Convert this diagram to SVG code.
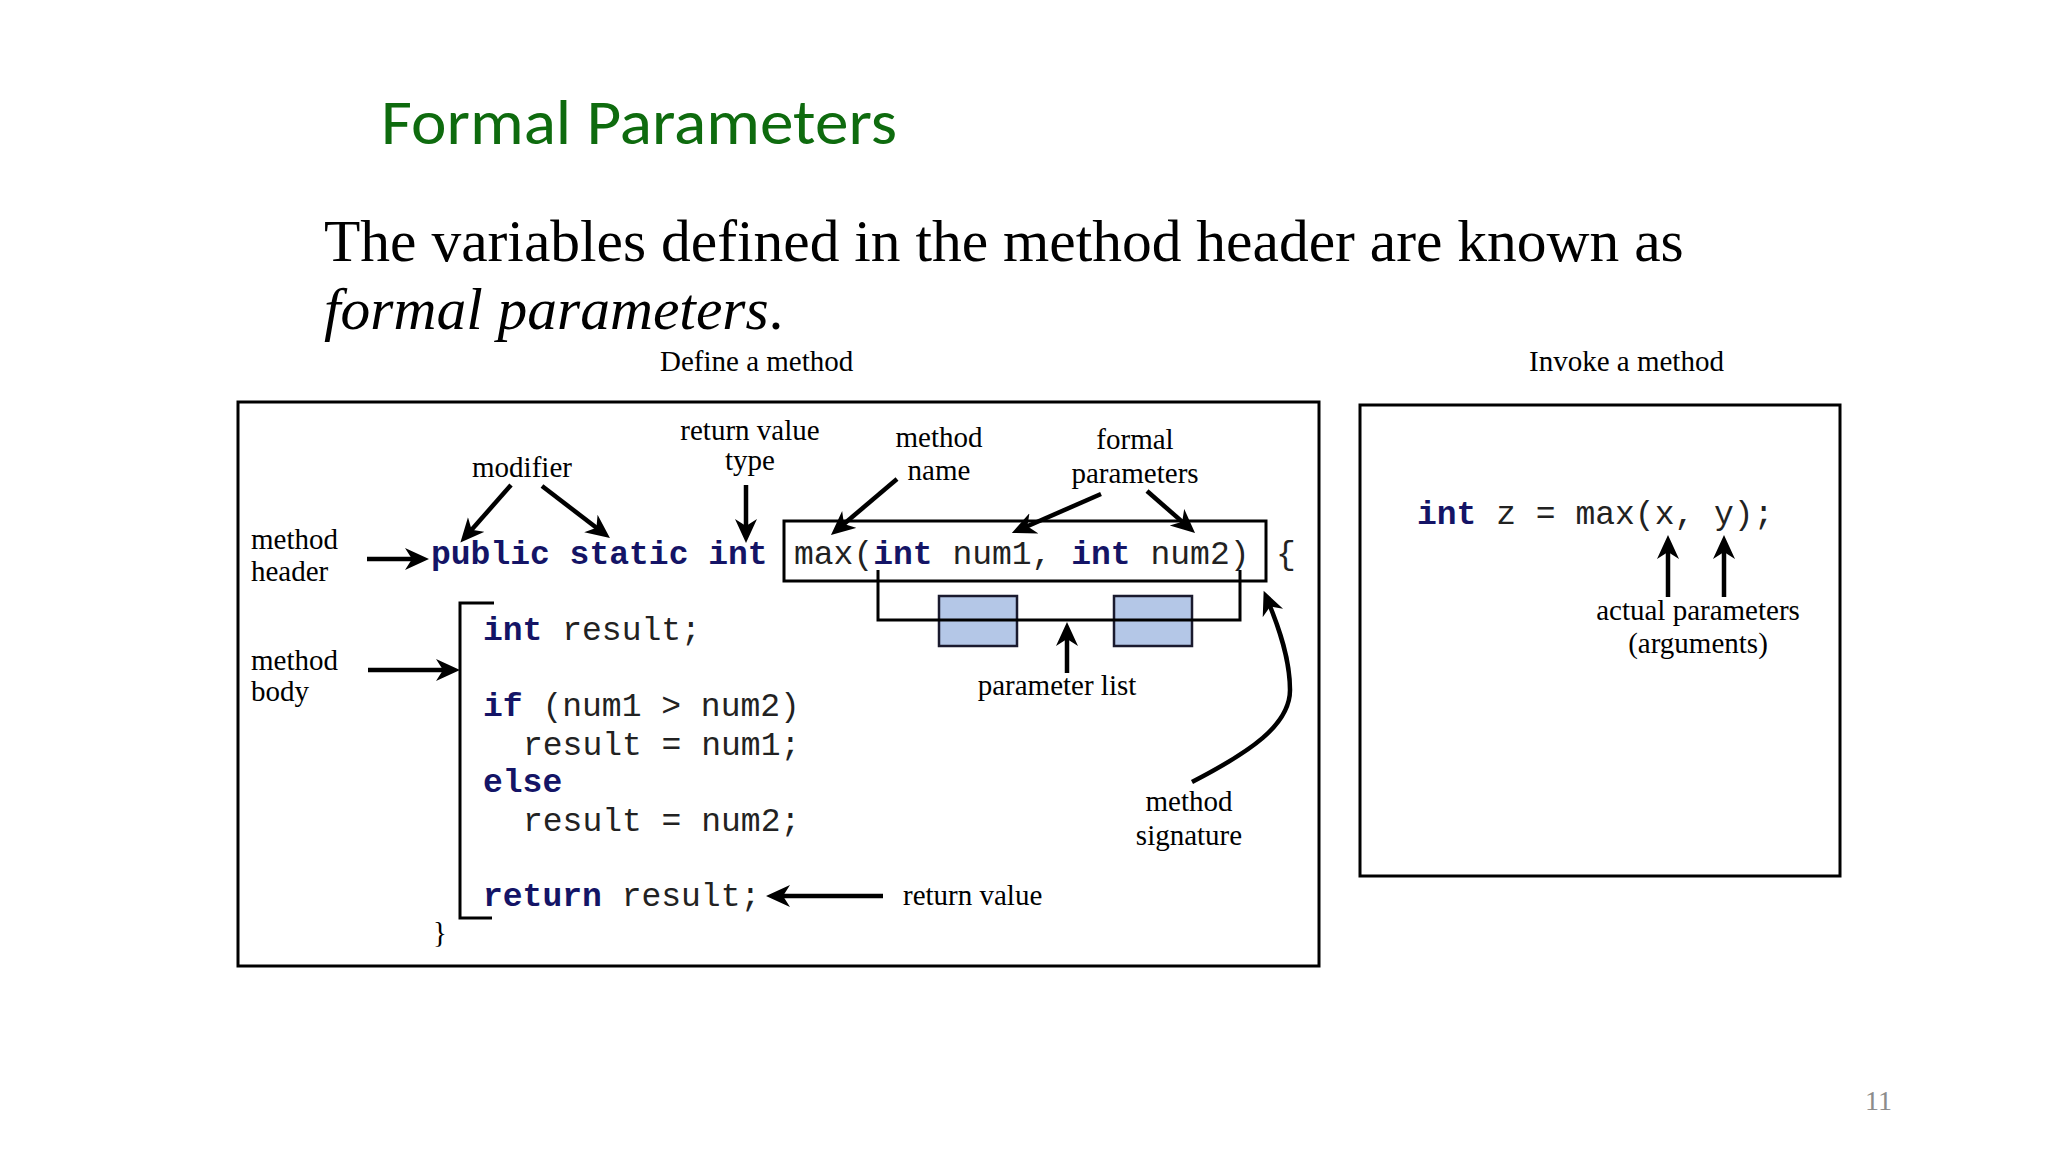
<svg xmlns="http://www.w3.org/2000/svg" width="2048" height="1152" viewBox="0 0 2048 1152">
<style>
.lbl{font-family:"Liberation Serif","Times New Roman",serif;font-size:29px;fill:#000}
.mid{text-anchor:middle}
.code{font-family:"Liberation Mono","Courier New",monospace;font-size:33px;fill:#222}
.kw{font-weight:bold;fill:#141466}
.box{fill:none;stroke:#000;stroke-width:3}
.arr{fill:none;stroke:#000;stroke-width:4.5;marker-end:url(#ah)}
.thin{fill:none;stroke:#000;stroke-width:3}
</style>
<defs>
<marker id="ah" markerUnits="userSpaceOnUse" markerWidth="26" markerHeight="24" refX="14" refY="11" orient="auto">
<path d="M0,0 L24,11 L0,22 L7,11 z" fill="#000"/>
</marker>
</defs>
<rect width="2048" height="1152" fill="#fff"/>
<g id="title">
<text x="381" y="144" font-family="Carlito,Lato,'Open Sans',sans-serif" font-size="64" fill="#0E6B0E" textLength="516" lengthAdjust="spacingAndGlyphs">Formal Parameters</text>
</g>
<g id="intro">
<text x="324" y="261" font-family="'Liberation Serif','Times New Roman',serif" font-size="59.5" fill="#000">The variables defined in the method header are known as</text>
<text x="324" y="329" font-family="'Liberation Serif','Times New Roman',serif" font-size="59.5" font-style="italic" fill="#000">formal parameters<tspan font-style="normal">.</tspan></text>
</g>
<g id="define-panel">
<text class="lbl" x="660" y="371">Define a method</text>
<rect class="box" x="238" y="402" width="1081" height="564"/>
</g>
<g id="invoke-panel">
<text class="lbl" x="1529" y="371">Invoke a method</text>
<rect class="box" x="1360" y="405" width="480" height="471"/>
</g>
<g id="header-code">
<text class="code" x="431" y="564"><tspan class="kw">public static int</tspan></text>
<rect class="box" x="784" y="521" width="482" height="60"/>
<text class="code" x="794" y="564">max(<tspan class="kw">int</tspan> num1, <tspan class="kw">int</tspan> num2)</text>
<text class="code" x="1276" y="564">{</text>
</g>
<g id="param-list">
<rect x="939" y="596" width="78" height="50" fill="#B4C7E7" stroke="#1a1a2e" stroke-width="2.5"/>
<rect x="1114" y="596" width="78" height="50" fill="#B4C7E7" stroke="#1a1a2e" stroke-width="2.5"/>
<path class="thin" d="M878,570 V620 H1240 V570"/>
</g>
<g id="body-code">
<path class="thin" d="M494,603 H460 V918 H492"/>
<text class="code" x="483" y="640"><tspan class="kw">int</tspan> result;</text>
<text class="code" x="483" y="716"><tspan class="kw">if</tspan> (num1 &gt; num2)</text>
<text class="code" x="523" y="755">result = num1;</text>
<text class="code" x="483" y="792"><tspan class="kw">else</tspan></text>
<text class="code" x="523" y="831">result = num2;</text>
<text class="code" x="483" y="906"><tspan class="kw">return</tspan> result;</text>
<text class="lbl" x="433" y="942">}</text>
</g>
<g id="labels">
<text class="lbl" x="251" y="549">method</text>
<text class="lbl" x="251" y="581">header</text>
<text class="lbl" x="251" y="670">method</text>
<text class="lbl" x="251" y="701">body</text>
<text class="lbl mid" x="522" y="477">modifier</text>
<text class="lbl mid" x="750" y="440">return value</text>
<text class="lbl mid" x="750" y="470">type</text>
<text class="lbl mid" x="939" y="447">method</text>
<text class="lbl mid" x="939" y="480">name</text>
<text class="lbl mid" x="1135" y="449">formal</text>
<text class="lbl mid" x="1135" y="483">parameters</text>
<text class="lbl mid" x="1057" y="695">parameter list</text>
<text class="lbl mid" x="1189" y="811">method</text>
<text class="lbl mid" x="1189" y="845">signature</text>
<text class="lbl" x="903" y="905">return value</text>
</g>
<g id="invoke-code">
<text class="code" x="1417" y="524"><tspan class="kw">int</tspan> z = max(x, y);</text>
<text class="lbl mid" x="1698" y="620">actual parameters</text>
<text class="lbl mid" x="1698" y="653">(arguments)</text>
</g>
<g id="connectors">
<path class="arr" d="M367,559 L419,559"/>
<path class="arr" d="M368,670 L450,670"/>
<path class="arr" d="M511,485 L467,535"/>
<path class="arr" d="M542,486 L602,532"/>
<path class="arr" d="M746,485 L746,533"/>
<path class="arr" d="M897,479 L838.6,528.5"/>
<path class="arr" d="M1101,494 L1021,529"/>
<path class="arr" d="M1147,491 L1187.5,526.4"/>
<path class="arr" d="M1067,673 L1067,632"/>
<path class="arr" d="M883,896 L776,896"/>
<path class="arr" d="M1192,782 C1250,752 1290,725 1290,690 C1290,660 1280,630 1267.5,600"/>
<path class="arr" d="M1668,597 L1668,545"/>
<path class="arr" d="M1724,597 L1724,545"/>
</g>
<g id="page-number">
<text x="1865" y="1110" font-family="'Liberation Serif','Times New Roman',serif" font-size="28" fill="#8C8C8C">11</text>
</g>
</svg>
